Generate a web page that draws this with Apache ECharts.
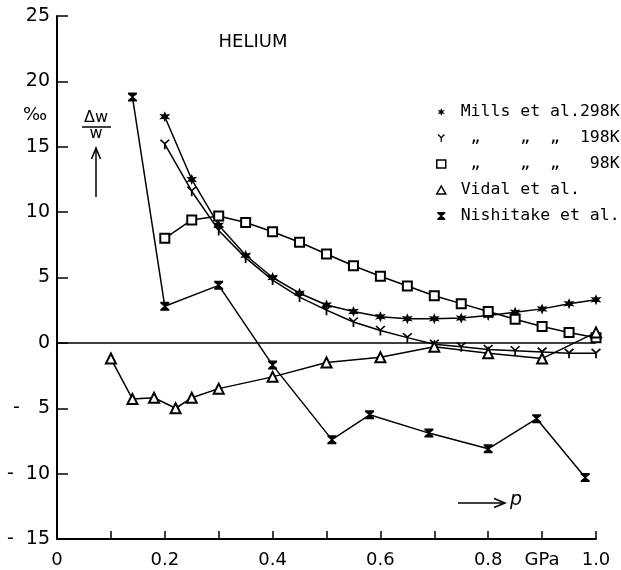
<!DOCTYPE html>
<html>
<head>
<meta charset="utf-8">
<script src="https://cdn.jsdelivr.net/npm/echarts@6/dist/echarts.min.js"></script>
<style>
  html, body { margin: 0; padding: 0; background: #fff; }
  #chart { width: 621px; height: 570px; }
</style>
</head>
<body>
<div id="chart"></div>
<script>
// Pressure grid (GPa) of the Mills et al. measurements
const pressureMills = [0.2, 0.25, 0.3, 0.35, 0.4, 0.45, 0.5, 0.55, 0.6, 0.65, 0.7, 0.75, 0.8, 0.85, 0.9, 0.95, 1.0];
// Relative deviation Δw/w in per mille
const mills298 = [17.3, 12.5, 9.0, 6.7, 5.0, 3.8, 2.9, 2.4, 2.0, 1.85, 1.85, 1.9, 2.1, 2.35, 2.6, 3.0, 3.3];
const mills198 = [15.2, 11.6, 8.6, 6.5, 4.8, 3.5, 2.5, 1.6, 0.95, 0.4, -0.1, -0.3, -0.5, -0.6, -0.7, -0.8, -0.8];
const mills98  = [8.0, 9.4, 9.7, 9.2, 8.5, 7.7, 6.8, 5.9, 5.1, 4.35, 3.6, 3.0, 2.4, 1.8, 1.25, 0.8, 0.4];

const pressureVidal = [0.1, 0.14, 0.18, 0.22, 0.25, 0.3, 0.4, 0.5, 0.6, 0.7, 0.8, 0.9, 1.0];
const vidal = [-1.2, -4.3, -4.2, -5.0, -4.2, -3.5, -2.6, -1.5, -1.1, -0.3, -0.8, -1.2, 0.8];

const pressureNishitake = [0.14, 0.2, 0.3, 0.4, 0.51, 0.58, 0.69, 0.8, 0.89, 0.98];
const nishitake = [18.8, 2.8, 4.4, -1.7, -7.4, -5.5, -6.9, -8.1, -5.8, -10.3];

// Tick texts, indexed by tick position
const pressureTickLabels = ['0', '', '0.2', '', '0.4', '', '0.6', '', '0.8', 'GPa', '1.0'];
const deviationTickLabels = ['-  15', '-  10', '-   5', '0', '5', '10', '15', '20', '25'];

const seriesNames = ['Mills 298K', 'Mills 198K', 'Mills 98K', 'Vidal', 'Nishitake'];
const legendLabels = [
  ' Mills et al.298K',
  '  \u201E    \u201E  \u201E  198K',
  '  \u201E    \u201E  \u201E   98K',
  ' Vidal et al.',
  ' Nishitake et al.'
];

// Marker shapes
const STAR = 'path://M10 0 L12.25 6.1 L18.66 5 L14.5 10 L18.66 15 L12.25 13.9 L10 20 L7.75 13.9 L1.34 15 L5.5 10 L1.34 5 L7.75 6.1 Z';
const YMARK = 'path://M3.13 0 L10 6.87 L16.87 0 L19.13 2.26 L11.6 9.79 L11.6 20 L8.4 20 L8.4 9.79 L0.87 2.26 Z';
const HOURGLASS = 'path://M0 0 L10 0 L10 1.8 L6 5 L10 8.2 L10 10 L0 10 L0 8.2 L4 5 L0 1.8 Z';

function pairs(xs, ys) { return xs.map((x, i) => [x, ys[i]]); }

const black = '#000';
const lineStyle = { color: black, width: 1.5 };
const font = 'DejaVu Sans';

const chart = echarts.init(document.getElementById('chart'), null, { renderer: 'canvas' });

chart.setOption({
  animation: false,
  backgroundColor: '#fff',
  grid: { left: 57, right: 25, top: 16, bottom: 31, containLabel: false },
  xAxis: {
    type: 'value', min: 0, max: 1.0, interval: 0.1,
    axisLine: { show: true, onZero: false, lineStyle: { color: black, width: 2 } },
    axisTick: { show: true, inside: true, length: 8, lineStyle: { color: black, width: 1.5 } },
    splitLine: { show: false },
    axisLabel: {
      color: black, fontFamily: font, fontSize: 18, margin: 12,
      formatter: v => pressureTickLabels[Math.round(v * 10)] || ''
    }
  },
  yAxis: {
    type: 'value', min: -15, max: 25, interval: 5,
    axisLine: { show: true, onZero: false, lineStyle: { color: black, width: 2 } },
    axisTick: { show: true, inside: true, length: 11, lineStyle: { color: black, width: 1.5 } },
    splitLine: { show: false },
    axisLabel: {
      color: black, fontFamily: font, fontSize: 19, margin: 7,
      formatter: v => deviationTickLabels[Math.round((v + 15) / 5)]
    }
  },
  legend: {
    orient: 'vertical', left: 431, top: 97,
    itemWidth: 9, itemHeight: 8, itemGap: 6,
    selectedMode: false,
    textStyle: { fontFamily: 'DejaVu Sans Mono', fontSize: 16.5, color: black, lineHeight: 20 },
    formatter: name => legendLabels[seriesNames.indexOf(name)],
    data: [
      { name: seriesNames[0], icon: STAR, itemStyle: { color: black, borderWidth: 0 } },
      { name: seriesNames[1], icon: YMARK, itemStyle: { color: black, borderWidth: 0 } },
      { name: seriesNames[2], icon: 'rect', itemStyle: { color: '#fff', borderColor: black, borderWidth: 1.5 } },
      { name: seriesNames[3], icon: 'triangle', itemStyle: { color: '#fff', borderColor: black, borderWidth: 1.5 } },
      { name: seriesNames[4], icon: HOURGLASS, itemStyle: { color: black, borderWidth: 0 } }
    ]
  },
  graphic: [
    { type: 'text', x: 253, y: 42, style: { text: 'HELIUM', font: '18px DejaVu Sans', fill: black, align: 'center', verticalAlign: 'middle' } },
    { type: 'text', x: 35, y: 115, style: { text: '\u2030', font: '18px DejaVu Sans', fill: black, align: 'center', verticalAlign: 'middle' } },
    { type: 'text', x: 96, y: 118, style: { text: '\u0394w', font: '16px DejaVu Sans', fill: black, align: 'center', verticalAlign: 'middle' } },
    { type: 'line', shape: { x1: 82, y1: 127, x2: 111, y2: 127 }, style: { stroke: black, lineWidth: 1.5 } },
    { type: 'text', x: 96, y: 134, style: { text: 'w', font: '16px DejaVu Sans', fill: black, align: 'center', verticalAlign: 'middle' } },
    { type: 'line', shape: { x1: 96, y1: 197, x2: 96, y2: 149 }, style: { stroke: black, lineWidth: 1.5 } },
    { type: 'polyline', shape: { points: [[91.5, 159], [96, 148], [100.5, 159]] }, style: { stroke: black, fill: null, lineWidth: 1.5 } },
    { type: 'line', shape: { x1: 458, y1: 503, x2: 504, y2: 503 }, style: { stroke: black, lineWidth: 1.5 } },
    { type: 'polyline', shape: { points: [[494, 498.5], [505, 503], [494, 507.5]] }, style: { stroke: black, fill: null, lineWidth: 1.5 } },
    { type: 'text', x: 516, y: 500, style: { text: 'p', font: 'italic 19px DejaVu Sans', fill: black, align: 'center', verticalAlign: 'middle' } }
  ],
  series: [
    {
      name: seriesNames[0], type: 'line', data: pairs(pressureMills, mills298),
      symbol: STAR, symbolSize: 11, itemStyle: { color: black }, lineStyle,
      markLine: {
        silent: true, symbol: 'none', label: { show: false },
        lineStyle: { color: black, width: 1.5, type: 'solid' },
        data: [{ yAxis: 0 }]
      }
    },
    {
      name: seriesNames[1], type: 'line', data: pairs(pressureMills, mills198),
      symbol: YMARK, symbolSize: 10, itemStyle: { color: black }, lineStyle
    },
    {
      name: seriesNames[2], type: 'line', data: pairs(pressureMills, mills98),
      symbol: 'rect', symbolSize: 9, itemStyle: { color: '#fff', borderColor: black, borderWidth: 2 }, lineStyle
    },
    {
      name: seriesNames[3], type: 'line', data: pairs(pressureVidal, vidal),
      symbol: 'triangle', symbolSize: 10, itemStyle: { color: '#fff', borderColor: black, borderWidth: 2 }, lineStyle
    },
    {
      name: seriesNames[4], type: 'line', data: pairs(pressureNishitake, nishitake),
      symbol: HOURGLASS, symbolSize: [9, 9], itemStyle: { color: black }, lineStyle
    }
  ]
});
</script>
</body>
</html>
